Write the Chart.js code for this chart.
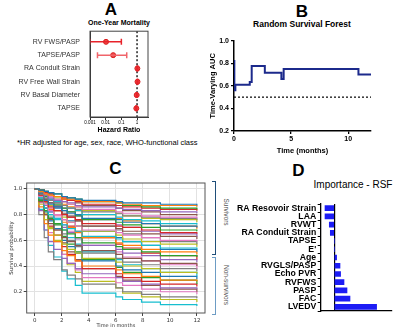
<!DOCTYPE html>
<html>
<head>
<meta charset="utf-8">
<script src="https://cdn.jsdelivr.net/npm/chart.js@4"></script>
<style>
  body { margin: 0; background: #fff; }
  #fig { position: relative; width: 400px; height: 332px; overflow: hidden;
         font-family: "Liberation Sans", Arial, sans-serif; color: #000; }
  #fig canvas { position: absolute; }
  .t { position: absolute; white-space: nowrap; line-height: 1; transform: translate(-50%, -50%); }
  .letter { font-size: 17px; font-weight: bold; }
  .vert { transform: translate(-50%, -50%) rotate(90deg); color: #555; font-size: 6.5px; }
  .bracket { position: absolute; width: 3px; border-style: solid; border-width: 1px 1.5px 1px 0; }
</style>
</head>
<body>
<div id="fig">
  <div class="t letter" style="left:111px;top:9px">A</div>
  <div class="t" style="left:119px;top:22px;font-size:7px;font-weight:bold">One-Year Mortality</div>
  <div class="t" style="left:17px;top:143px;font-size:7.5px;transform:translate(0,-50%)">*HR adjusted for age, sex, race, WHO-functional class</div>

  <div class="t letter" style="left:302px;top:11px">B</div>
  <div class="t" style="left:302px;top:24px;font-size:8.5px;font-weight:bold">Random Survival Forest</div>

  <div class="t letter" style="left:115.5px;top:167.5px">C</div>
  <div class="bracket" style="left:212px;top:181px;height:72px;border-color:#1f4e79"></div>
  <div class="bracket" style="left:212px;top:257px;height:56px;border-color:#6d9cc4"></div>
  <div class="t vert" style="left:226px;top:212px">Survivors</div>
  <div class="t vert" style="left:226px;top:285px">Non-survivors</div>

  <div class="t letter" style="left:298.5px;top:169.5px">D</div>
  <div class="t" style="left:353px;top:185px;font-size:10px">Importance - RSF</div>

  <canvas id="hr" width="160" height="115" style="left:0;top:25px"></canvas>
  <canvas id="auc" width="200" height="128" style="left:200px;top:30px"></canvas>
  <canvas id="surv" width="215" height="157" style="left:0;top:175px"></canvas>
  <canvas id="imp" width="168" height="130" style="left:232px;top:195px"></canvas>
</div>
<script>
// ---- A: adjusted hazard ratios ----
const HR_LABELS = ["RV FWS/PASP", "TAPSE/PASP", "RA Conduit Strain", "RV Free Wall Strain", "RV Basal Diameter", "TAPSE"];
const HR = [0.0105, 0.03, 1.05, 1.07, 0.95, 0.9];
const HR_LOW = [0.001, 0.003, 0.98, 1.0, 0.9, 0.84];
const HR_HIGH = [0.1, 0.22, 1.12, 1.14, 1.0, 0.96];
const HR_TICKS = [0.001, 0.01, 0.1, 1];

// ---- B: time-varying AUC ----
const B_TIME = [0, 0.03, 0.12, 1.38, 1.55, 2.7, 4.15, 4.35, 10.9, 12];
const B_AUC = [0.82, 0.56, 0.61, 0.635, 0.775, 0.715, 0.66, 0.75, 0.70, 0.70];
const B_CHANCE = 0.5;
const B_X_TICKS = [0, 5, 10];
const B_Y_TICKS = [0.2, 0.4, 0.6, 0.8, 1.0];

// ---- C: predicted survival curves ----
const SURV_TIMES = [0, 0.3, 0.7, 1.0, 1.4, 2.0, 2.4, 3.0, 3.5, 6.0, 6.5, 7.9, 9.3, 12];
const SURV_CURVES = [
  [1,.99,.98,.97,.96,.94,.93,.92,.91,.90,.89,.89,.88,.87],
  [1,.98,.96,.95,.94,.92,.92,.91,.90,.89,.88,.87,.87,.86],
  [1,.99,.98,.97,.96,.94,.93,.92,.90,.89,.87,.86,.85,.84],
  [1,.99,.97,.96,.94,.93,.91,.90,.88,.87,.86,.85,.84,.83],
  [1,.98,.95,.93,.91,.90,.89,.87,.86,.85,.84,.83,.82,.81],
  [1,.99,.98,.96,.94,.92,.91,.89,.87,.85,.83,.82,.80,.79],
  [1,.98,.96,.94,.92,.90,.88,.86,.84,.82,.81,.79,.78,.77],
  [1,.97,.93,.91,.89,.87,.85,.84,.82,.81,.79,.78,.77,.76],
  [1,.99,.97,.95,.93,.90,.88,.86,.83,.81,.79,.77,.76,.74],
  [1,.98,.95,.92,.90,.87,.85,.83,.80,.78,.76,.75,.73,.72],
  [1,.96,.91,.88,.86,.83,.81,.80,.77,.76,.74,.73,.71,.70],
  [1,.99,.96,.94,.91,.88,.86,.83,.80,.77,.75,.73,.71,.69],
  [1,.97,.94,.91,.88,.85,.82,.79,.76,.74,.72,.70,.68,.67],
  [1,.95,.90,.86,.83,.80,.78,.76,.73,.71,.70,.68,.66,.65],
  [1,.98,.95,.92,.89,.85,.82,.79,.76,.72,.70,.67,.65,.63],
  [1,.97,.92,.89,.86,.81,.78,.75,.71,.69,.67,.65,.63,.61],
  [1,.94,.88,.83,.80,.76,.74,.71,.68,.66,.64,.62,.60,.59],
  [1,.98,.95,.91,.87,.83,.79,.75,.71,.68,.65,.62,.59,.57],
  [1,.96,.91,.87,.83,.78,.74,.71,.67,.64,.61,.59,.57,.55],
  [1,.93,.85,.80,.77,.72,.69,.67,.63,.61,.59,.56,.54,.53],
  [1,.97,.94,.89,.85,.80,.75,.71,.67,.62,.59,.56,.53,.51],
  [1,.95,.89,.84,.80,.74,.70,.66,.62,.58,.56,.53,.51,.49],
  [1,.91,.83,.77,.73,.68,.65,.62,.58,.55,.53,.51,.48,.47],
  [1,.97,.92,.87,.83,.76,.71,.67,.62,.57,.54,.50,.48,.45],
  [1,.94,.87,.82,.77,.70,.66,.61,.56,.53,.50,.48,.45,.43],
  [1,.90,.80,.73,.68,.62,.59,.56,.52,.49,.46,.44,.42,.40],
  [1,.96,.91,.85,.79,.72,.67,.62,.56,.51,.47,.44,.41,.38],
  [1,.93,.85,.78,.73,.65,.60,.55,.50,.46,.43,.41,.38,.36],
  [1,.88,.76,.69,.64,.57,.53,.50,.46,.43,.40,.38,.35,.34],
  [1,.96,.89,.82,.76,.68,.62,.57,.51,.45,.41,.38,.35,.32],
  [1,.92,.82,.75,.69,.60,.55,.50,.44,.40,.37,.35,.32,.30],
  [1,.86,.73,.64,.59,.52,.48,.44,.40,.37,.34,.32,.29,.28],
  [1,.95,.87,.80,.72,.63,.57,.51,.45,.39,.35,.31,.29,.26],
  [1,.90,.80,.71,.64,.55,.49,.44,.38,.34,.31,.28,.26,.24],
  [1,.83,.68,.59,.53,.46,.42,.38,.34,.31,.28,.26,.23,.22],
  [1,.94,.85,.76,.68,.58,.51,.45,.38,.32,.29,.25,.22,.20],
  [1,.89,.76,.66,.59,.49,.42,.37,.31,.27,.25,.22,.20,.18],
  [1,.80,.62,.51,.45,.37,.33,.30,.26,.23,.20,.18,.16,.15],
  [1,.92,.81,.70,.60,.49,.41,.35,.28,.23,.19,.16,.14,.12],
  [1,.84,.68,.56,.47,.36,.30,.25,.19,.16,.14,.12,.10,.09]
];
const SURV_X_TICKS = [0, 2, 4, 6, 8, 10, 12];
const SURV_Y_TICKS = [0.2, 0.4, 0.6, 0.8, 1.0];
const TAB10 = ["#1f77b4", "#ff7f0e", "#2ca02c", "#d62728", "#9467bd",
               "#8c564b", "#e377c2", "#7f7f7f", "#bcbd22", "#17becf"];

// ---- D: RSF variable importance ----
const D_FEATURES = ["RA Resovoir Strain", "LAA", "RVWT", "RA Conduit Strain", "TAPSE", "E'",
                    "Age", "RVGLS/PASP", "Echo PVR", "RVFWS", "PASP", "FAC", "LVEDV"];
const D_IMPORTANCE = [-0.0093, -0.0093, -0.005, -0.004, 0, 0,
                      0.0023, 0.0057, 0.0063, 0.0097, 0.0127, 0.0157, 0.0423];

Chart.defaults.font.family = '"Liberation Sans", Arial, sans-serif';
Chart.defaults.color = "#000";
Chart.defaults.animation = false;
Chart.defaults.plugins.legend.display = false;
Chart.defaults.plugins.tooltip.enabled = false;

// helpers to pin axis sizes so plot areas land where wanted
const fixWidth = w => scale => { scale.width = w; };
const fixHeight = h => scale => { scale.height = h; };
const setTicks = values => scale => { scale.ticks = values.map(v => ({ value: v })); };

const framePlugin = {
  id: "frame",
  afterDraw(chart, args, opts) {
    const { ctx, chartArea: a } = chart;
    ctx.save();
    ctx.strokeStyle = opts.color;
    ctx.lineWidth = opts.width;
    ctx.strokeRect(a.left, a.top, a.right - a.left, a.bottom - a.top);
    ctx.restore();
  }
};

const refLinePlugin = {
  id: "refLine",
  beforeDatasetsDraw(chart, args, opts) {
    const { ctx, chartArea: a } = chart;
    const x = chart.scales.x.getPixelForValue(opts.value);
    ctx.save();
    ctx.strokeStyle = "#000";
    ctx.lineWidth = 1.3;
    ctx.setLineDash([2, 2]);
    ctx.beginPath();
    ctx.moveTo(x, a.top);
    ctx.lineTo(x, a.bottom);
    ctx.stroke();
    ctx.restore();
  }
};

// A
const ciColors = ["#e8222a", "#f0646a", "#e8222a", "#e8222a", "#e8222a", "#e8222a"];
const hrSets = HR_LABELS.map((lab, i) => ({
  data: [{ x: HR_LOW[i], y: i }, { x: HR_HIGH[i], y: i }],
  showLine: true,
  borderColor: ciColors[i],
  borderWidth: 1.5,
  pointStyle: "line",
  pointRotation: 90,
  pointRadius: 3,
  pointBorderWidth: 1.5,
  pointBorderColor: ciColors[i]
}));
hrSets.push({
  data: HR.map((v, i) => ({ x: v, y: i })),
  pointRadius: 2.5,
  pointBackgroundColor: "#f04848",
  pointBorderColor: "#d81e1e",
  pointBorderWidth: 1
});

new Chart(document.getElementById("hr"), {
  type: "scatter",
  data: { datasets: hrSets },
  options: {
    responsive: false,
    layout: { padding: { left: 0, top: 3, right: 12, bottom: 6 } },
    scales: {
      x: {
        type: "logarithmic", min: 0.001, max: 5,
        afterBuildTicks: setTicks(HR_TICKS),
        afterFit: fixHeight(17),
        grid: { drawOnChartArea: false, tickLength: 3, color: "#333" },
        border: { color: "#333" },
        ticks: { font: { size: 4.5 }, padding: 0, maxRotation: 0, callback: v => String(v) },
        title: { display: true, text: "Hazard Ratio", font: { size: 7, weight: "bold" }, padding: 0 }
      },
      y: {
        type: "linear", min: -0.8, max: 5.65, reverse: true,
        afterBuildTicks: setTicks(HR_LABELS.map((l, i) => i)),
        afterFit: fixWidth(90),
        grid: { display: false },
        border: { color: "#333" },
        ticks: { font: { size: 7 }, color: "#333", padding: 2, callback: v => HR_LABELS[v] }
      }
    },
    plugins: { frame: { color: "#444", width: 1 }, refLine: { value: 1 } }
  },
  plugins: [framePlugin, refLinePlugin]
});

// B  (stepped "before": hold the previous value, then jump at the new time)
new Chart(document.getElementById("auc"), {
  type: "line",
  data: {
    datasets: [
      {
        data: B_TIME.map((t, i) => ({ x: t, y: B_AUC[i] })),
        stepped: "before",
        borderColor: "#1c2a8c",
        borderWidth: 2,
        pointRadius: 0
      },
      {
        data: [{ x: 0, y: B_CHANCE }, { x: 12, y: B_CHANCE }],
        borderColor: "#000",
        borderWidth: 1.2,
        borderDash: [2, 2],
        pointRadius: 0
      }
    ]
  },
  options: {
    responsive: false,
    layout: { padding: { left: 0, top: 10.7, right: 29, bottom: 0 } },
    scales: {
      x: {
        type: "linear", min: 0, max: 12,
        afterBuildTicks: setTicks(B_X_TICKS),
        afterFit: fixHeight(27),
        grid: { drawOnChartArea: false, tickLength: 3, color: "#000", lineWidth: 1.3 },
        border: { color: "#000", width: 1.5 },
        ticks: { font: { size: 7, weight: "bold" }, padding: 0.5, maxRotation: 0 },
        title: { display: true, text: "Time (months)", font: { size: 7.5, weight: "bold" }, padding: { top: 0, bottom: 2.5 } }
      },
      y: {
        type: "linear", min: 0.2, max: 1.0,
        afterBuildTicks: setTicks(B_Y_TICKS),
        afterFit: fixWidth(34),
        grid: { drawOnChartArea: false, tickLength: 3, color: "#000", lineWidth: 1.3 },
        border: { color: "#000", width: 1.5 },
        ticks: { font: { size: 7, weight: "bold" }, padding: 2, callback: v => v.toFixed(1) },
        title: { display: true, text: "Time-Varying AUC", font: { size: 7.5, weight: "bold" }, padding: { top: 8.5, bottom: 0 } }
      }
    }
  }
});

// C
new Chart(document.getElementById("surv"), {
  type: "line",
  data: {
    datasets: SURV_CURVES.map((c, k) => ({
      data: SURV_TIMES.map((t, i) => ({ x: t, y: c[i] })),
      stepped: "before",
      borderColor: TAB10[k % TAB10.length],
      borderWidth: 1.2,
      pointRadius: 0
    }))
  },
  options: {
    responsive: false,
    layout: { padding: { left: 0, top: 8, right: 10, bottom: 0 } },
    scales: {
      x: {
        type: "linear", min: -0.6, max: 12.6,
        afterBuildTicks: setTicks(SURV_X_TICKS),
        afterFit: fixHeight(19),
        grid: { color: "#e2e2e2", lineWidth: 1, tickLength: 3, tickColor: "#444" },
        border: { display: false },
        ticks: { font: { family: '"DejaVu Sans", sans-serif', size: 5.5 }, color: "#333", padding: 1, maxRotation: 0 },
        title: { display: true, text: "Time in months", color: "#333",
                 font: { family: '"DejaVu Sans", sans-serif', size: 5 }, padding: { top: 0, bottom: 3 } }
      },
      y: {
        type: "linear", min: 0.035, max: 1.045,
        afterBuildTicks: setTicks(SURV_Y_TICKS),
        afterFit: fixWidth(26.7),
        grid: { color: "#e2e2e2", lineWidth: 1, tickLength: 3, tickColor: "#444" },
        border: { display: false },
        ticks: { font: { family: '"DejaVu Sans", sans-serif', size: 5.5 }, color: "#333", padding: 1.5, callback: v => v.toFixed(1) },
        title: { display: true, text: "Survival probability", color: "#333",
                 font: { family: '"DejaVu Sans", sans-serif', size: 5.5 }, padding: { top: 8.4, bottom: 0 } }
      }
    },
    plugins: { frame: { color: "#555", width: 1 } }
  },
  plugins: [framePlugin]
});

// D
new Chart(document.getElementById("imp"), {
  type: "bar",
  data: {
    labels: D_FEATURES,
    datasets: [{ data: D_IMPORTANCE, backgroundColor: "#1c1cf5", barThickness: 5 }]
  },
  options: {
    responsive: false,
    indexAxis: "y",
    layout: { padding: { left: 0, top: 9, right: 8, bottom: 0 } },
    scales: {
      x: {
        min: -0.0136, max: 0.0577,
        afterBuildTicks: setTicks([0]),
        afterFit: fixHeight(14),
        ticks: { display: false },
        grid: { drawTicks: false, color: ctx => (ctx.tick && ctx.tick.value === 0 ? "#000" : "rgba(0,0,0,0)"), lineWidth: 1.2 },
        border: { color: "#000", width: 1.3 }
      },
      y: {
        afterFit: fixWidth(88.7),
        grid: { drawOnChartArea: false, tickLength: 3, color: "#000" },
        border: { color: "#000", width: 1.3 },
        ticks: { font: { size: 8.7, weight: "bold" }, padding: 1.5, autoSkip: false }
      }
    }
  }
});
</script>
</body>
</html>
